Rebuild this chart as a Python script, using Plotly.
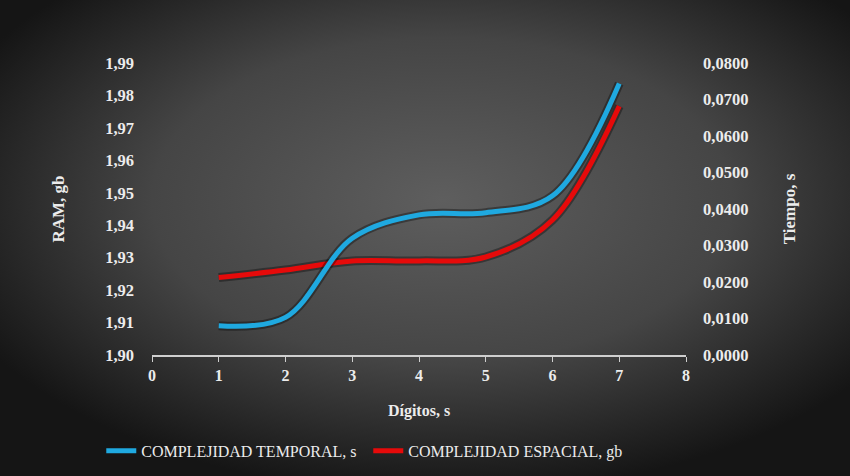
import base64
import plotly.graph_objects as go

# Dígitos vs tiempo (s) y memoria (gb)
digitos = [1, 2, 3, 4, 5, 6, 7]
tiempo_s = [0.0080, 0.0103, 0.0320, 0.0384, 0.0390, 0.0436, 0.0744]
ram_gb = [1.9239, 1.9262, 1.9290, 1.9290, 1.9302, 1.9416, 1.9767]

AZUL = "#1fa9e0"
ROJO = "#e60a0a"
TXT = "#ececec"
FUENTE = "Liberation Serif"

# fondo con degradado radial (como el de Excel)
svg = """<svg xmlns='http://www.w3.org/2000/svg' width='850' height='476'>
<defs><radialGradient id='g' cx='52%' cy='42%' r='62%'>
<stop offset='0%' stop-color='#5e5e5e'/>
<stop offset='55%' stop-color='#454545'/>
<stop offset='100%' stop-color='#151515'/>
</radialGradient></defs>
<rect width='850' height='476' fill='url(#g)'/></svg>"""
fondo = "data:image/svg+xml;base64," + base64.b64encode(svg.encode()).decode()

fig = go.Figure()

# sombras
fig.add_trace(go.Scatter(x=digitos, y=tiempo_s, yaxis="y2", mode="lines",
                         line=dict(color="rgba(0,0,0,0.35)", width=9, shape="spline", smoothing=1),
                         showlegend=False, hoverinfo="skip"))
fig.add_trace(go.Scatter(x=digitos, y=ram_gb, mode="lines",
                         line=dict(color="rgba(0,0,0,0.35)", width=9, shape="spline", smoothing=1),
                         showlegend=False, hoverinfo="skip"))

fig.add_trace(go.Scatter(x=digitos, y=tiempo_s, yaxis="y2", mode="lines",
                         name="COMPLEJIDAD TEMPORAL, s",
                         line=dict(color=AZUL, width=5, shape="spline", smoothing=1)))
fig.add_trace(go.Scatter(x=digitos, y=ram_gb, mode="lines",
                         name="COMPLEJIDAD ESPACIAL, gb",
                         line=dict(color=ROJO, width=5, shape="spline", smoothing=1)))

fig.update_layout(
    width=850, height=476,
    margin=dict(l=152, r=164, t=63, b=121, autoexpand=False),
    paper_bgcolor="#2a2a2a", plot_bgcolor="rgba(0,0,0,0)",
    separators=",.",
    font=dict(family=FUENTE, color=TXT, size=16),
    images=[dict(source=fondo, xref="paper", yref="paper",
                 x=-152 / 534, y=1 + 63 / 292, sizex=850 / 534, sizey=476 / 292,
                 sizing="stretch", xanchor="left", yanchor="top", layer="below")],
    xaxis=dict(range=[0, 8], dtick=1, showgrid=False, zeroline=False, automargin=False,
               showline=True, linecolor="#cfcfcf", linewidth=1.5,
               ticks="outside", ticklen=5, tickcolor="#cfcfcf",
               tickfont=dict(size=16, weight="bold"),
               title=dict(text="<b>Dígitos, s</b>", font=dict(size=16), standoff=22)),
    yaxis=dict(range=[1.90, 1.99], dtick=0.01, tickformat=".2f", showgrid=False, automargin=False,
               zeroline=False, showline=False, ticklabelstandoff=17,
               tickfont=dict(size=16.5, weight="bold"),
               title=dict(text="<b>RAM, gb</b>", font=dict(size=17), standoff=36)),
    yaxis2=dict(range=[0, 0.08], dtick=0.01, tickformat=".4f", overlaying="y", side="right",
                showgrid=False, zeroline=False, showline=False, ticklabelstandoff=16,
                automargin=False, tickfont=dict(size=16.5, weight="bold"),
                title=dict(text="<b>Tiempo, s</b>", font=dict(size=17), standoff=35)),
    legend=dict(orientation="h", x=-0.095, y=-0.27, xanchor="left", yanchor="top",
                entrywidth=222, entrywidthmode="pixels",
                font=dict(size=16, color=TXT), bgcolor="rgba(0,0,0,0)"),
    showlegend=True,
)

fig.write_html("out.html", config={"displayModeBar": False},
               post_script="document.body.style.margin='0';")
